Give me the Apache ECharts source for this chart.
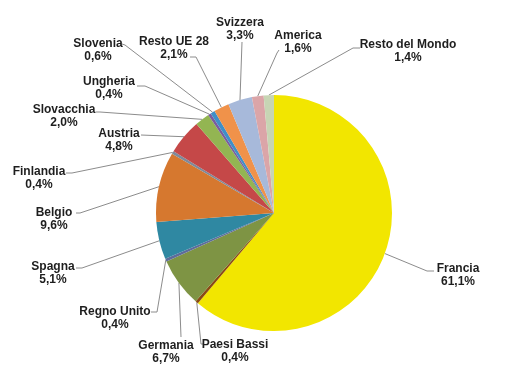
<!DOCTYPE html>
<html>
<head>
<meta charset="utf-8">
<script src="https://cdn.jsdelivr.net/npm/echarts@6/dist/echarts.min.js"></script>
<style>html,body{margin:0;padding:0;background:#fff;}#c{width:508px;height:372px;}</style>
</head>
<body>
<div id="c"></div>
<script>
var categories = ["Francia","Paesi Bassi","Germania","Regno Unito","Spagna","Belgio","Finlandia","Austria","Slovacchia","Ungheria","Slovenia","Resto UE 28","Svizzera","America","Resto del Mondo"];
var values = [61.1,0.4,6.7,0.4,5.1,9.6,0.4,4.8,2.0,0.4,0.6,2.1,3.3,1.6,1.4];
var colors = ["#F2E600","#8A4A14","#7E9444","#5E6C9A","#2F88A2","#D6782F","#7F8A99","#C54848","#93B552","#7A5C9E","#3F8FC8","#F0924A","#A7B9DA","#DBA5A8","#C7D5B4"];
// label layout (text anchor positions and leader line bends, in px)
var labelPos = [[458,275],[235,351],[166,352],[115,318],[53,273],[54,219],[39,178],[119,140],[64,116],[109,88],[98,50],[174,48],[240,29],[298,42],[408,51]];
var elbows = [[[427,271],[434,271]],[[201,344],[203,344]],[[181,337],[181,337]],[[157,312],[151,312]],[[82,268],[76,268]],[[80,213],[76,213]],[[72,173],[66,173]],[[141,135],[141,135]],[[100,112],[96,112]],[[145,86],[137,86]],[[125,45],[122,44]],[[196,57],[190,57]],[[242,42],[242,42]],[[277,53],[279,50]],[[353,48],[360,48]]];

var chart = echarts.init(document.getElementById('c'), null, {renderer:'canvas'});
var data = categories.map(function(n,i){return {name:n, value:values[i], itemStyle:{color:colors[i]}};});
chart.setOption({
  backgroundColor:'#ffffff',
  animation:false,
  series:[{
    type:'pie',
    center:[274,213],
    radius:118,
    startAngle:90,
    clockwise:true,
    minAngle:0,
    avoidLabelOverlap:false,
    itemStyle:{borderWidth:0},
    data:data,
    label:{
      show:true,
      position:'outside',
      formatter:function(p){return p.name+'\n'+p.value.toFixed(1).replace('.',',')+'%';},
      fontFamily:'Liberation Sans, Arial, sans-serif',
      fontWeight:'bold',
      fontSize:12,
      lineHeight:13,
      color:'#1e1e1e',
      align:'center'
    },
    labelLine:{show:true, lineStyle:{color:'#8c8c8c', width:1}},
    labelLayout:function(p){
      var i=p.dataIndex;
      var pos=labelPos[i], e=elbows[i];
      var p0=p.labelLinePoints ? p.labelLinePoints[0] : e[0];
      return {x:pos[0], y:pos[1], align:'center', verticalAlign:'middle', labelLinePoints:[p0,e[0],e[1]]};
    }
  }]
});
</script>
</body>
</html>
